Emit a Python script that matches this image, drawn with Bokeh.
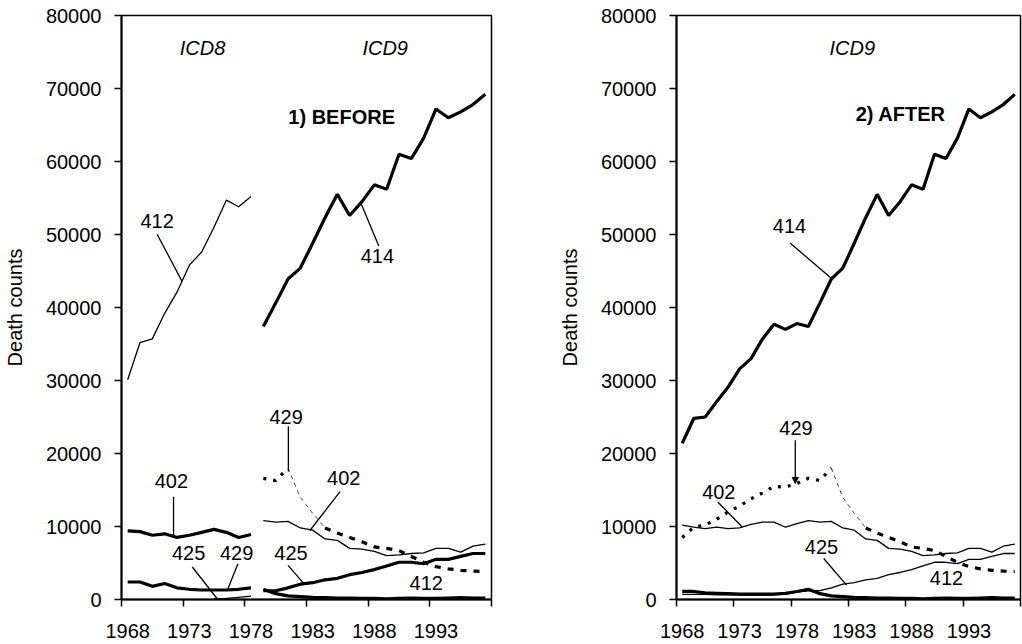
from bokeh.plotting import figure
from bokeh.layouts import row
from bokeh.models import Range1d, FixedTicker, Label, Arrow, NormalHead
from bokeh.embed import file_html
from bokeh.resources import INLINE

FONT = "Liberation Sans"

# ---------------- data ----------------
years_icd8 = list(range(1968, 1979))
years_icd9 = list(range(1979, 1998))
years_425_icd8 = [1975, 1976, 1977, 1978]

# Panel 1 (BEFORE) - ICD8 era
before_412_icd8 = [30100, 35200, 35700, 39200, 42100, 45800, 47600, 51000, 54700, 53800, 55200]
before_402_icd8 = [9400, 9300, 8800, 9000, 8500, 8800, 9200, 9600, 9200, 8500, 8900]
before_429_icd8 = [2400, 2400, 1800, 2200, 1600, 1400, 1300, 1300, 1300, 1400, 1600]
before_425_icd8 = [100, 150, 300, 450]

# ICD9 era (shared by both panels)
icd9_414 = [37400, 40600, 43900, 45400, 48800, 52300, 55500, 52600, 54500, 56800,
            56200, 61000, 60400, 63200, 67200, 66000, 66800, 67800, 69200]
icd9_402 = [10800, 10600, 10700, 9800, 9500, 8300, 8100, 7000, 6900, 6600,
            6000, 6100, 6300, 6400, 7000, 7000, 6500, 7300, 7600]
icd9_429 = [16600, 16300, 18000, 14000, 11800, 9800, 9100, 8500, 7900, 7200,
            7000, 6700, 5900, 5100, 4500, 4200, 4000, 3900, 3800]
icd9_425 = [1200, 1200, 1600, 2100, 2300, 2700, 2900, 3400, 3700, 4100,
            4600, 5100, 5100, 4900, 5500, 5500, 5900, 6300, 6300]
icd9_412 = [1400, 800, 500, 400, 300, 250, 200, 200, 150, 150,
            100, 150, 200, 150, 150, 200, 250, 200, 200]

# Panel 2 (AFTER) - ICD8 era converted
after_414_icd8 = [21400, 24800, 25000, 27100, 29100, 31600, 33000, 35700, 37700, 37000, 37800]
after_402_icd8 = [10200, 9900, 9700, 9900, 9700, 9800, 10300, 10600, 10600, 9900, 10400]
after_429_icd8 = [8500, 9900, 10200, 11000, 12000, 12800, 13800, 14600, 15500, 15400, 15900]
after_425_icd8 = [700, 700, 700, 650, 650, 600, 600, 600, 650, 750, 1000]
after_412_icd8 = [1100, 1100, 900, 850, 800, 750, 750, 750, 750, 850, 1100]

y_ticks = [0, 10000, 20000, 30000, 40000, 50000, 60000, 70000, 80000]
x_tick_years = [1968, 1973, 1978, 1983, 1988, 1993]
x_tick_labels = ["1968", "1973", "1978", "1983", "1988", "1993"]
x_boundaries = [1967.5, 1972.5, 1977.5, 1982.5, 1987.5, 1992.5, 1997.5]

# annotation texts (text, x, y, style)
left_labels = [
    ("ICD8", 1974.07, 75600, "italic"),
    ("ICD9", 1988.88, 75600, "italic"),
    ("1) BEFORE", 1985.35, 66100, "bold"),
    ("412", 1970.39, 51800, "normal"),
    ("414", 1988.25, 47000, "normal"),
    ("402", 1971.54, 16200, "normal"),
    ("425", 1972.94, 6400, "normal"),
    ("429", 1976.83, 6400, "normal"),
    ("429", 1980.85, 25000, "normal"),
    ("402", 1985.52, 16600, "normal"),
    ("425", 1981.24, 6400, "normal"),
    ("412", 1992.21, 2300, "normal"),
]
left_pointers = [
    (1970.39, 50040, 1972.42, 43550),
    (1988.36, 48410, 1986.90, 54360),
    (1971.72, 14070, 1971.72, 8760),
    (1973.24, 4450, 1975.31, 0),
    (1976.94, 4900, 1976.08, 1280),
    (1981.03, 23740, 1981.03, 17520),
    (1985.22, 14790, 1982.78, 9450),
    (1981.00, 4680, 1982.29, 2180),
]
right_labels = [
    ("ICD9", 1982.83, 75600, "italic"),
    ("2) AFTER", 1987.05, 66500, "bold"),
    ("414", 1977.35, 51150, "normal"),
    ("429", 1977.92, 23500, "normal"),
    ("402", 1971.19, 14760, "normal"),
    ("425", 1980.14, 7230, "normal"),
    ("412", 1991.05, 2920, "normal"),
]
right_pointers = [
    (1977.41, 48820, 1981.05, 43940),
    (1971.10, 13360, 1973.23, 9940),
    (1980.34, 5610, 1982.33, 1960),
]
right_arrows = [
    (1977.86, 21810, 1977.86, 15900),
]

THICK = 3.2
THIN = 1.3


def make_panel(width, height, border_left, border_top, border_bottom, border_right):
    p = figure(width=width, height=height, output_backend="svg", toolbar_location=None,
               x_range=Range1d(1967.5, 1997.5), y_range=Range1d(0, 80000),
               min_border_left=border_left, min_border_right=border_right,
               min_border_top=border_top, min_border_bottom=border_bottom)
    p.grid.visible = False
    p.outline_line_color = "black"
    p.outline_line_width = 1.5
    p.background_fill_color = "white"
    p.border_fill_color = "white"

    xa = p.xaxis[0]
    xa.ticker = FixedTicker(ticks=x_tick_years, minor_ticks=x_boundaries)
    xa.major_label_overrides = {y: s for y, s in zip(x_tick_years, x_tick_labels)}
    xa.major_tick_in = 0
    xa.major_tick_out = 0
    xa.minor_tick_in = 0
    xa.minor_tick_out = 7
    xa.minor_tick_line_width = 1.5
    xa.minor_tick_line_color = "black"
    xa.axis_line_width = 2
    xa.axis_line_color = "black"
    xa.major_label_text_font = FONT
    xa.major_label_text_font_size = "20px"
    xa.major_label_text_color = "black"
    xa.major_label_standoff = 17

    ya = p.yaxis[0]
    ya.ticker = FixedTicker(ticks=y_ticks)
    ya.major_label_overrides = {v: str(v) for v in y_ticks}
    ya.major_tick_in = 0
    ya.major_tick_out = 7
    ya.major_tick_line_width = 1.5
    ya.minor_tick_in = 0
    ya.minor_tick_out = 0
    ya.axis_line_width = 2
    ya.axis_line_color = "black"
    ya.major_label_text_font = FONT
    ya.major_label_text_font_size = "20px"
    ya.major_label_text_color = "black"
    ya.major_label_standoff = 13
    ya.axis_label = "Death counts"
    ya.axis_label_text_font = FONT
    ya.axis_label_text_font_size = "20px"
    ya.axis_label_text_font_style = "normal"
    ya.axis_label_text_color = "black"
    ya.axis_label_standoff = 17
    return p


def add_texts(p, labels, pointers, arrows=()):
    for x0, y0, x1, y1 in pointers:
        p.segment(x0=[x0], y0=[y0], x1=[x1], y1=[y1], line_color="black", line_width=1.3)
    for x0, y0, x1, y1 in arrows:
        p.add_layout(Arrow(x_start=x0, y_start=y0, x_end=x1, y_end=y1, line_width=1.3,
                           end=NormalHead(size=6, fill_color="black", line_color="black")))
    for text, x, y, style in labels:
        p.add_layout(Label(x=x, y=y, text=text, text_font=FONT, text_font_size="20px",
                           text_font_style=style, text_align="center",
                           text_baseline="middle", text_color="black"))


def draw_429(p, years, vals):
    # thick dashed up to 1981, thin dashed 1981-1984, thick dashed afterwards
    a = [(y, v) for y, v in zip(years, vals) if y <= 1981]
    b = [(y, v) for y, v in zip(years, vals) if 1981 <= y <= 1984]
    c = [(y, v) for y, v in zip(years, vals) if y >= 1984]
    p.line([t[0] for t in a], [t[1] for t in a], line_color="black", line_width=THICK,
           line_dash="3 7")
    p.line([t[0] for t in b], [t[1] for t in b], line_color="#444444", line_width=1,
           line_dash="4 4")
    p.line([t[0] for t in c], [t[1] for t in c], line_color="black", line_width=THICK,
           line_dash="6 7")


# ---------------- panel 1: BEFORE ----------------
p1 = make_panel(555, 644, 121, 15, 41, 64)
p1.line(years_icd8, before_412_icd8, line_color="black", line_width=THIN)
p1.line(years_icd8, before_402_icd8, line_color="black", line_width=THICK)
p1.line(years_icd8, before_429_icd8, line_color="black", line_width=THICK)
p1.line(years_425_icd8, before_425_icd8, line_color="black", line_width=THIN)
p1.line(years_icd9, icd9_414, line_color="black", line_width=THICK)
p1.line(years_icd9, icd9_402, line_color="black", line_width=THIN)
draw_429(p1, years_icd9, icd9_429)
p1.line(years_icd9, icd9_425, line_color="black", line_width=THICK)
p1.line(years_icd9, icd9_412, line_color="black", line_width=THICK)
add_texts(p1, left_labels, left_pointers)

# ---------------- panel 2: AFTER ----------------
years_all = years_icd8 + years_icd9
p2 = make_panel(467, 644, 113, 15, 45, 2)
p2.line(years_all, after_414_icd8 + icd9_414, line_color="black", line_width=THICK)
p2.line(years_all, after_402_icd8 + icd9_402, line_color="black", line_width=THIN)
draw_429(p2, years_all, after_429_icd8 + icd9_429)
p2.line(years_all, after_425_icd8 + icd9_425, line_color="black", line_width=THIN)
p2.line(years_all, after_412_icd8 + icd9_412, line_color="black", line_width=THICK)
add_texts(p2, right_labels, right_pointers, right_arrows)

layout = row(p1, p2)
open("out.html", "w").write(file_html(layout, INLINE))
